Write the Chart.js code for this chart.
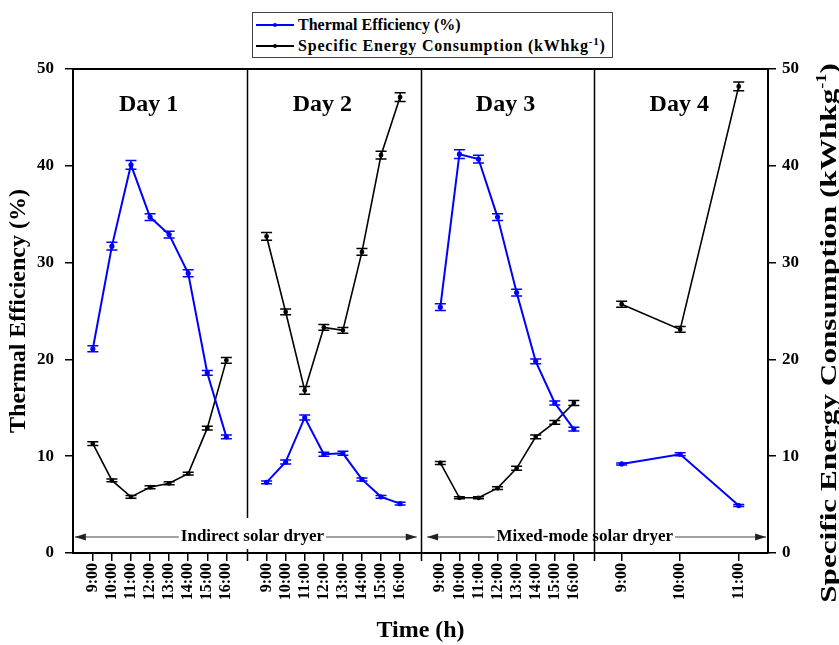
<!DOCTYPE html>
<html>
<head>
<meta charset="utf-8">
<script src="https://cdn.jsdelivr.net/npm/chart.js@4/dist/chart.umd.min.js"></script>
<style>
  body { margin: 0; background: #fff; }
  #wrap { position: relative; width: 839px; height: 645px; }
  #legend {
    position: absolute; left: 252px; top: 12px; width: 359px; height: 44px;
    border: 1px solid #444; background: #fff;
    font: bold 16px 'Liberation Serif', serif; color: #000;
  }
  .row { position: absolute; left: 3px; height: 20px; display: flex; align-items: center; white-space: nowrap; }
  .swatch { position: relative; width: 38px; height: 2px; margin-right: 4px; }
  .swatch i { position: absolute; left: 17px; top: -1px; width: 4px; height: 4px; border-radius: 2px; }
  sup { font-size: 11px; line-height: 0; }
</style>
</head>
<body>
<div id="wrap">
  <canvas id="chart" width="839" height="645"></canvas>
  <div id="legend">
    <div class="row" style="top:2px"><span class="swatch" style="background:#0000ff"><i style="background:#0000ff"></i></span>Thermal Efficiency (%)</div>
    <div class="row" style="top:23px"><span class="swatch" style="background:#000"><i style="background:#000"></i></span><span style="letter-spacing:0.8px">Specific Energy Consumption (kWhkg<sup>-1</sup>)</span></div>
  </div>
</div>
<script>
// ================================
// DATA
// ================================
const hours = ["9:00", "10:00", "11:00", "12:00", "13:00", "14:00", "15:00", "16:00"];
const day4Hours = ["9:00", "10:00", "11:00"];
const dayNames = ["Day 1", "Day 2", "Day 3", "Day 4"];
const dryerNames = ["Indirect solar dryer", "Mixed-mode solar dryer"];
const yTicks = [0, 10, 20, 30, 40, 50];

// thermal efficiency (%)
const effDay1 = [21.1, 31.7, 40.1, 34.7, 32.9, 28.9, 18.6, 12.0];
const effDay2 = [7.3, 9.4, 14.0, 10.2, 10.3, 7.6, 5.8, 5.1];
const effDay3 = [25.4, 41.2, 40.7, 34.7, 26.9, 19.8, 15.5, 12.8];
const effDay4 = [9.2, 10.2, 4.9];
const effErrDay1 = [0.3, 0.4, 0.45, 0.35, 0.35, 0.35, 0.25, 0.2];
const effErrDay2 = [0.15, 0.2, 0.25, 0.2, 0.2, 0.15, 0.15, 0.15];
const effErrDay3 = [0.35, 0.45, 0.4, 0.35, 0.35, 0.25, 0.2, 0.2];
const effErrDay4 = [0.1, 0.15, 0.1];

// specific energy consumption (kWh/kg)
const secDay1 = [11.3, 7.5, 5.8, 6.8, 7.2, 8.2, 12.9, 19.9];
const secDay2 = [32.7, 24.9, 16.8, 23.3, 23.0, 31.1, 41.1, 47.1];
const secDay3 = [9.3, 5.7, 5.7, 6.7, 8.75, 12.0, 13.5, 15.5];
const secDay4 = [25.7, 23.1, 48.2];
const secErrDay1 = [0.2, 0.15, 0.15, 0.15, 0.15, 0.15, 0.2, 0.3];
const secErrDay2 = [0.4, 0.3, 0.4, 0.3, 0.3, 0.35, 0.4, 0.45];
const secErrDay3 = [0.15, 0.1, 0.1, 0.15, 0.2, 0.2, 0.2, 0.25];
const secErrDay4 = [0.3, 0.3, 0.45];

// ================================
// LAYOUT (x in panel units)
// ================================
const PANEL = 9.2;
const X_MAX = 36.8;
function xOf(day, i) {
    if (day < 3) return day * PANEL + 1.05 + i * 1.01;
    return day * PANEL + 1.45 + i * 3.1;
}

const effSets = [effDay1, effDay2, effDay3, effDay4];
const effErrs = [effErrDay1, effErrDay2, effErrDay3, effErrDay4];
const secSets = [secDay1, secDay2, secDay3, secDay4];
const secErrs = [secErrDay1, secErrDay2, secErrDay3, secErrDay4];

const tickList = [];
[hours, hours, hours, day4Hours].forEach((labels, d) => {
    labels.forEach((lab, i) => tickList.push({ value: xOf(d, i), label: lab }));
});

function makeSet(values, errs, day, color, axis, width) {
    return {
        data: values.map((v, i) => ({ x: xOf(day, i), y: v })),
        errors: errs,
        yAxisID: axis,
        borderColor: color,
        backgroundColor: color,
        borderWidth: width,
        pointRadius: 1.6,
        pointHoverRadius: 1.6,
        tension: 0
    };
}

const datasets = [];
for (let d = 0; d < 4; d++) {
    datasets.push(makeSet(effSets[d], effErrs[d], d, "#0000ff", "y", 2));
    datasets.push(makeSet(secSets[d], secErrs[d], d, "#000000", "y1", 1.6));
}

const FONT = "'Liberation Serif', 'Times New Roman', serif";

// ================================
// PLUGINS
// ================================
const errorBars = {
    id: "errorBars",
    afterDatasetsDraw(chart) {
        const ctx = chart.ctx;
        chart.data.datasets.forEach((ds, k) => {
            const meta = chart.getDatasetMeta(k);
            const ys = chart.scales[ds.yAxisID];
            ctx.save();
            ctx.strokeStyle = ds.borderColor;
            ctx.lineWidth = 1.5;
            meta.data.forEach((pt, i) => {
                const v = ds.data[i].y, e = ds.errors[i];
                const top = ys.getPixelForValue(v + e);
                const bot = ys.getPixelForValue(v - e);
                ctx.beginPath();
                ctx.moveTo(pt.x, top); ctx.lineTo(pt.x, bot);
                ctx.moveTo(pt.x - 5.5, top); ctx.lineTo(pt.x + 5.5, top);
                ctx.moveTo(pt.x - 5.5, bot); ctx.lineTo(pt.x + 5.5, bot);
                ctx.stroke();
            });
            ctx.restore();
        });
    }
};

function arrowHead(ctx, x, y, dir) {
    ctx.beginPath();
    ctx.moveTo(x, y);
    ctx.lineTo(x - dir * 11, y - 3.5);
    ctx.lineTo(x - dir * 11, y + 3.5);
    ctx.closePath();
    ctx.fill();
}

function dryerArrow(ctx, x0, x1, xc, y, text) {
    ctx.font = "bold 17px " + FONT;
    const w = ctx.measureText(text).width;
    ctx.strokeStyle = "#444";
    ctx.fillStyle = "#222";
    ctx.lineWidth = 1;
    ctx.beginPath();
    ctx.moveTo(x0, y); ctx.lineTo(xc - w / 2 - 2, y);
    ctx.moveTo(xc + w / 2 + 2, y); ctx.lineTo(x1, y);
    ctx.stroke();
    arrowHead(ctx, x0, y, -1);
    arrowHead(ctx, x1, y, 1);
    ctx.fillStyle = "#000";
    ctx.textAlign = "center";
    ctx.textBaseline = "middle";
    ctx.fillText(text, xc, y);
}

const decorations = {
    id: "decorations",
    afterDraw(chart) {
        const ctx = chart.ctx;
        const a = chart.chartArea;
        const xs = chart.scales.x;
        ctx.save();

        // top frame
        ctx.strokeStyle = "#000";
        ctx.lineWidth = 2;
        ctx.beginPath();
        ctx.moveTo(a.left - 1, a.top); ctx.lineTo(a.right + 1, a.top);
        ctx.stroke();

        // panel separators
        ctx.lineWidth = 1.5;
        for (let d = 1; d < 4; d++) {
            const px = Math.round(xs.getPixelForValue(d * PANEL)) + 0.5;
            ctx.beginPath();
            if (d === 1) {
                ctx.moveTo(px, a.top); ctx.lineTo(px, a.bottom - 35);
                ctx.moveTo(px, a.bottom - 4); ctx.lineTo(px, a.bottom + 8);
            } else {
                ctx.moveTo(px, a.top); ctx.lineTo(px, a.bottom + 8);
            }
            ctx.stroke();
        }

        // day titles
        const dayOffsets = [4.0, 4.0, 4.5, 4.5];
        ctx.font = "bold 24px " + FONT;
        ctx.fillStyle = "#000";
        ctx.textAlign = "center";
        ctx.textBaseline = "middle";
        dayNames.forEach((n, d) => {
            ctx.fillText(n, xs.getPixelForValue(d * PANEL + dayOffsets[d]), a.top + 36);
        });

        // dryer arrows
        const ay = a.bottom - 16;
        dryerArrow(ctx, xs.getPixelForValue(0.1), xs.getPixelForValue(18.2),
            xs.getPixelForValue(9.5), ay, dryerNames[0]);
        dryerArrow(ctx, xs.getPixelForValue(18.75), xs.getPixelForValue(36.7),
            xs.getPixelForValue(27.1), ay, dryerNames[1]);

        // right axis title (reads bottom to top, with superscript)
        ctx.translate(830, (a.top + a.bottom) / 2 + 22);
        ctx.rotate(-Math.PI / 2);
        ctx.scale(1.3, 1);
        const main = "Specific Energy Consumption (kWhkg";
        const sup = "-1";
        const end = ")";
        ctx.font = "bold 24px " + FONT;
        const w1 = ctx.measureText(main).width;
        ctx.font = "bold 14px " + FONT;
        const w2 = ctx.measureText(sup).width;
        ctx.font = "bold 24px " + FONT;
        const w3 = ctx.measureText(end).width;
        let x = -(w1 + w2 + w3) / 2;
        ctx.textAlign = "left";
        ctx.textBaseline = "middle";
        ctx.fillText(main, x, 0);
        x += w1;
        ctx.font = "bold 14px " + FONT;
        ctx.fillText(sup, x, -8);
        x += w2;
        ctx.font = "bold 24px " + FONT;
        ctx.fillText(end, x, 0);
        ctx.restore();
    }
};

// ================================
// CHART
// ================================
const axisGrid = {
    drawOnChartArea: false,
    drawTicks: true,
    tickLength: 8,
    color: "#000",
    lineWidth: 1.5
};

new Chart(document.getElementById("chart").getContext("2d"), {
    type: "line",
    data: { datasets: datasets },
    options: {
        responsive: false,
        animation: false,
        devicePixelRatio: 1,
        layout: { padding: { top: 69, left: 0, right: 0, bottom: 0 } },
        plugins: {
            legend: { display: false },
            tooltip: { enabled: false }
        },
        scales: {
            x: {
                type: "linear",
                min: 0,
                max: X_MAX,
                afterBuildTicks: s => { s.ticks = tickList.map(t => ({ value: t.value })); },
                afterFit: s => { s.height = 92; },
                ticks: {
                    autoSkip: false,
                    minRotation: 90,
                    maxRotation: 90,
                    padding: 2,
                    color: "#000",
                    font: { family: FONT, size: 16, weight: "bold" },
                    callback: (v, i) => tickList[i] ? tickList[i].label : ""
                },
                grid: axisGrid,
                border: { display: true, color: "#000", width: 2 },
                title: {
                    display: true,
                    text: "Time (h)",
                    color: "#000",
                    padding: { top: 0, bottom: 0 },
                    font: { family: FONT, size: 24, weight: "bold" }
                }
            },
            y: {
                position: "left",
                min: 0,
                max: 50,
                afterBuildTicks: s => { s.ticks = yTicks.map(v => ({ value: v })); },
                afterFit: s => { s.width = 73; },
                ticks: {
                    padding: 11,
                    color: "#000",
                    font: { family: FONT, size: 17, weight: "bold" }
                },
                grid: axisGrid,
                border: { display: true, color: "#000", width: 2 },
                title: {
                    display: true,
                    text: "Thermal Efficiency (%)",
                    color: "#000",
                    padding: { top: 4, bottom: 4 },
                    font: { family: FONT, size: 24, weight: "bold" }
                }
            },
            y1: {
                position: "right",
                min: 0,
                max: 50,
                afterBuildTicks: s => { s.ticks = yTicks.map(v => ({ value: v })); },
                afterFit: s => { s.width = 71; },
                ticks: {
                    padding: 6,
                    color: "#000",
                    font: { family: FONT, size: 17, weight: "bold" }
                },
                grid: axisGrid,
                border: { display: true, color: "#000", width: 2 }
            }
        }
    },
    plugins: [errorBars, decorations]
});
</script>
</body>
</html>
